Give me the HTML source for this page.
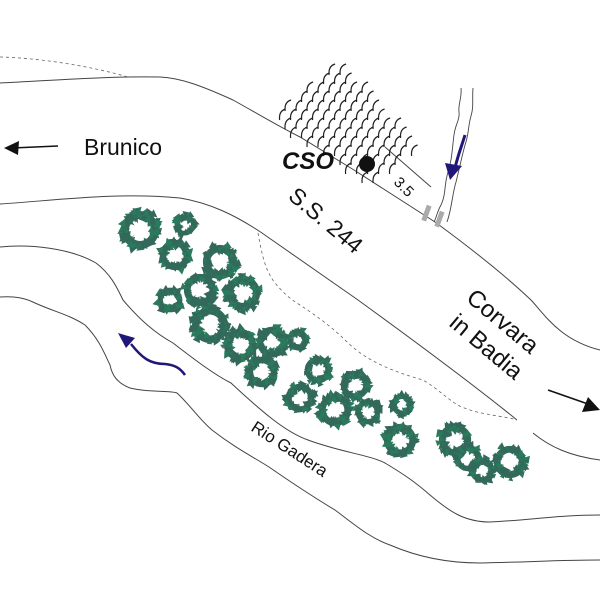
<!DOCTYPE html>
<html><head><meta charset="utf-8"><style>
html,body{margin:0;padding:0;background:#fff;}
svg{display:block;}
text{font-family:"Liberation Sans",Arial,sans-serif;fill:#111;}
</style></head><body>
<svg id="s" width="600" height="600" viewBox="0 0 600 600" xmlns="http://www.w3.org/2000/svg">
<g fill="none" stroke="#444" stroke-width="1">
<path d="M0,83 C60,80 110,76 160,77 C180,78 200,85 233,100 C260,115 280,127 300,137 L354,170 L435,222 C480,255 510,280 531,300 C545,315 560,340 600,350"/>
<path d="M385,147 L431,187"/>
<path d="M0,204 C60,200 120,192 180,198 C210,203 235,215 262,233 L358,300 C420,345 480,390 517,420 M533,433 C550,447 570,456 600,460"/>
<path d="M0,247 C30,244 70,248 96,263 C112,275 118,290 123,300 C140,320 155,333 173,343 C195,360 215,375 231,383 C260,410 285,432 308,440 C340,452 370,455 385,463 C405,475 415,482 430,495 C450,512 465,522 490,522 C530,520 560,515 600,515"/>
<path d="M0,297 C15,296 25,298 35,303 C55,312 70,315 85,325 C100,340 105,355 110,365 C112,375 117,383 130,388 C150,393 170,390 177,393 C190,405 200,420 212,430 C235,448 255,458 269,467 C295,485 315,498 335,510 C355,525 370,538 390,545 C420,558 450,563 480,563 C530,562 560,560 600,560"/>
</g>
<g fill="none" stroke="#666" stroke-width="0.8" stroke-dasharray="3,3">
<path d="M0,57 C40,58 90,66 128,77"/>
<path d="M258,233 C262,255 265,270 275,283 C285,295 292,300 300,305 C320,318 335,330 345,340 C360,355 380,368 423,380 C440,390 450,402 462,407 C480,415 505,416 517,420"/>
</g>
<g id="hatch" fill="none" stroke="#222" stroke-width="1.2"></g>
<g stroke="#444" stroke-width="0.9" fill="none">
<path d="M461,88 C462,98 458,104 459,112 C460,120 455,125 454,135 C452,150 452,160 448,172 C444,185 446,195 441,205 C437,212 437,216 434,222"/>
<path d="M473,88 C472,100 474,106 471,116 C468,126 469,134 465,145 C461,160 459,170 456,182 C452,195 452,208 447,222"/>
</g>
<path d="M465,135 C462,145 458,155 455,168" stroke="#21177a" stroke-width="3" fill="none"/>
<polygon points="445,163 462,166 450,180" fill="#21177a"/>
<g fill="#aaa">
<rect x="-2" y="-8" width="5" height="16" transform="translate(426,213) rotate(20)"/>
<rect x="-2" y="-8" width="5" height="16" transform="translate(439,219) rotate(20)"/>
</g>
<circle cx="367" cy="164" r="8" fill="#111"/>
<g id="trees"></g>
<path d="M185,375 C180,368 175,365 165,364 C150,364 142,358 131,344" stroke="#21177a" stroke-width="2.5" fill="none"/>
<polygon points="118,333 135,338 126,348" fill="#21177a"/>
<g stroke="#111" stroke-width="1.6">
<line x1="12" y1="148" x2="58" y2="146"/>
<line x1="548" y1="390" x2="588" y2="404"/>
</g>
<polygon points="4,148 19,141 18,155" fill="#111"/>
<polygon points="600,410 582,412 588,397" fill="#111"/>
<text x="84" y="155" font-size="23">Brunico</text>
<text x="282" y="169" font-size="24" font-weight="bold" font-style="italic">CSO</text>
<text transform="translate(287,198) rotate(40)" font-size="23">S.S. 244</text>
<text transform="translate(465,300) rotate(40)" font-size="24">Corvara</text>
<text transform="translate(448,325) rotate(40)" font-size="24">in Badia</text>
<text transform="translate(250,430) rotate(33)" font-size="17">Rio Gadera</text>
<text transform="translate(393,183) rotate(45)" font-size="15">3.5</text>
</svg>
<script>
var NS="http://www.w3.org/2000/svg";
var seed=7;function rnd(){seed=(seed*16807)%2147483647;return seed/2147483647;}
var h=document.getElementById("hatch");
function inside(x,y){var P=[[268,112],[343,55],[422,142],[375,182]];var c=false;for(var i=0,j=3;i<4;j=i++){var xi=P[i][0],yi=P[i][1],xj=P[j][0],yj=P[j][1];if(((yi>y)!=(yj>y))&&(x<(xj-xi)*(y-yi)/(yj-yi)+xi))c=!c;}return c;}
for(var y=55;y<185;y+=9){for(var x=260;x<430;x+=11){var xx=x+((y/9)%2)*5.5;if(inside(xx,y)){var p=document.createElementNS(NS,"path");p.setAttribute("d","M"+(xx+3)+","+y+" q-7,2 -6,11");h.appendChild(p);}}}
var T=[[140,230,20],[185,225,11],[175,255,16],[220,262,18],[200,290,17],[243,293,18],[170,300,13],[210,325,19],[240,345,17],[272,342,16],[262,372,16],[298,340,11],[318,370,14],[355,385,15],[300,398,15],[335,410,17],[368,412,13],[402,405,11],[400,440,17],[455,440,17],[468,458,14],[510,462,17],[482,470,13]];
var g=document.getElementById("trees");
T.forEach(function(t){
 var r=t[2];
 var c=document.createElementNS(NS,"circle");c.setAttribute("cx",t[0]);c.setAttribute("cy",t[1]);c.setAttribute("r",r*0.75);c.setAttribute("fill","none");c.setAttribute("stroke","#33695b");c.setAttribute("stroke-width",r*0.4);g.appendChild(c);
 var n=Math.round(r*4);
 for(var k=0;k<n;k++){
  var a=rnd()*6.283,rr=r*(0.55+rnd()*0.48),s=2.5+rnd()*2.5;
  var x=t[0]+Math.cos(a)*rr,y=t[1]+Math.sin(a)*rr,b=rnd()*6.283;
  var pts=[];for(var q=0;q<3;q++){var an=b+q*2.094;pts.push((x+Math.cos(an)*s).toFixed(1)+","+(y+Math.sin(an)*s).toFixed(1));}
  var pg=document.createElementNS(NS,"polygon");pg.setAttribute("points",pts.join(" "));pg.setAttribute("fill",rnd()<0.35?"#2a7a5c":"#33695b");g.appendChild(pg);
 }
 for(var k=0;k<3;k++){var a=rnd()*6.283,rr=r*0.35;var x=t[0]+Math.cos(a)*rr,y=t[1]+Math.sin(a)*rr;var pg=document.createElementNS(NS,"polygon");pg.setAttribute("points",x+","+y+" "+(t[0]+Math.cos(a)*r*0.7+2)+","+(t[1]+Math.sin(a)*r*0.7)+" "+(t[0]+Math.cos(a)*r*0.7-2)+","+(t[1]+Math.sin(a)*r*0.7+2));pg.setAttribute("fill","#33695b");g.appendChild(pg);}
});
</script>
</body></html>
